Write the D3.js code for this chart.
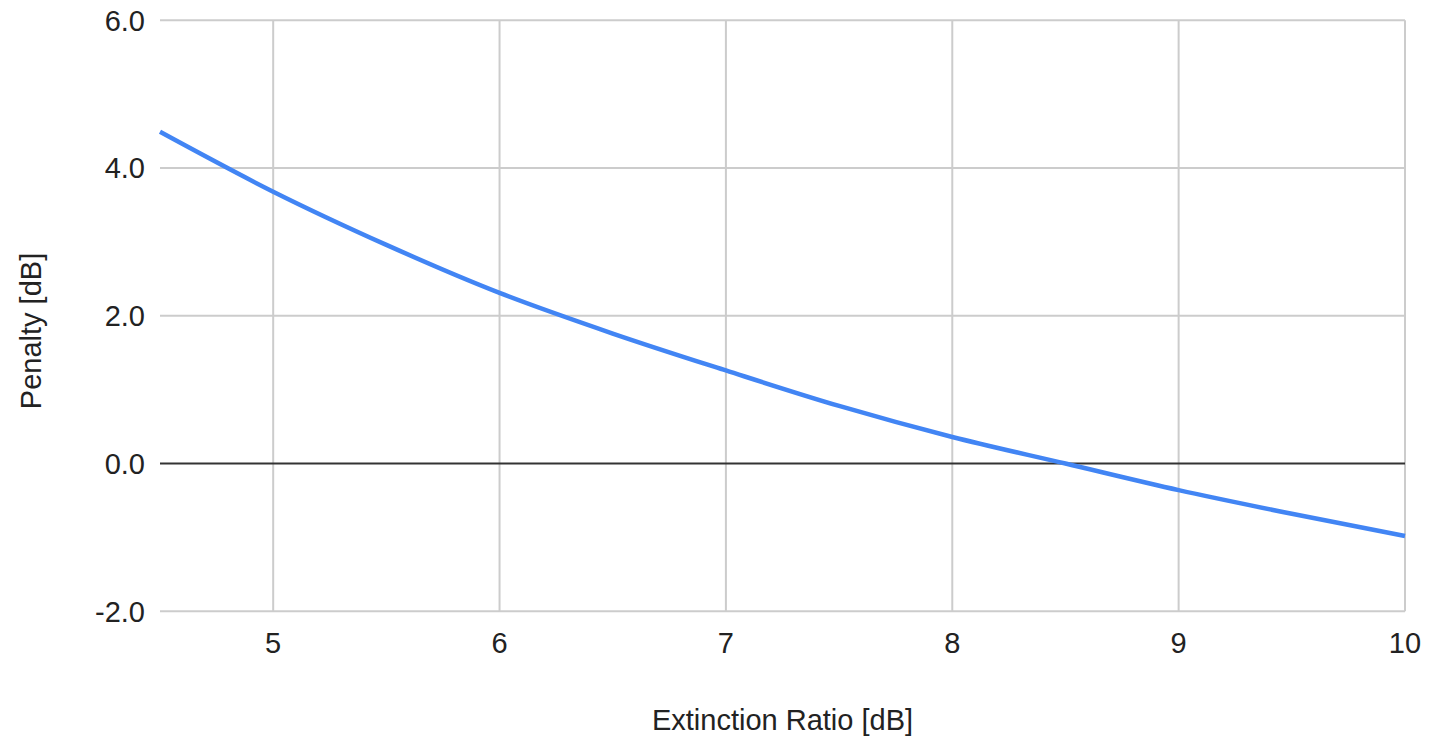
<!DOCTYPE html>
<html><head><meta charset="utf-8">
<script src="https://cdn.jsdelivr.net/npm/d3@7"></script>
<style>body{margin:0;background:#fff}svg{display:block}text{font-family:"Liberation Sans",Arial,sans-serif}</style>
</head><body>
<svg id="c" width="1448" height="738"></svg>
<script>
const extinctionRatio = [4.5, 5, 5.5, 6, 6.5, 7, 7.5, 8, 8.5, 9, 9.5, 10];
const penalty = [4.49, 3.68, 2.96, 2.31, 1.76, 1.26, 0.78, 0.36, 0.0, -0.36, -0.68, -0.98];
const xTicks = [5, 6, 7, 8, 9, 10];
const yTicks = [-2, 0, 2, 4, 6];
const yTickLabels = ["-2.0", "0.0", "2.0", "4.0", "6.0"];
const xTitle = "Extinction Ratio [dB]";
const yTitle = "Penalty [dB]";

const svg = d3.select("#c");
const L = 160, R = 1405, T = 20.3, B = 611.3;
const x = d3.scaleLinear().domain([4.5, 10]).range([L, R]);
const y = d3.scaleLinear().domain([-2, 6]).range([B, T]);
const fs = 29;

// horizontal gridlines
svg.append("g").selectAll("line").data(yTicks.filter(d => d !== 0)).join("line")
  .attr("x1", L).attr("x2", R).attr("y1", d => y(d)).attr("y2", d => y(d))
  .attr("stroke", "#cccccc").attr("stroke-width", 2);
// vertical gridlines
svg.append("g").selectAll("line").data(xTicks).join("line")
  .attr("x1", d => x(d)).attr("x2", d => x(d)).attr("y1", T).attr("y2", B)
  .attr("stroke", "#cccccc").attr("stroke-width", 2);
// zero baseline
svg.append("line").attr("x1", L).attr("x2", R).attr("y1", y(0)).attr("y2", y(0))
  .attr("stroke", "#333333").attr("stroke-width", 2);

// y tick labels
svg.append("g").selectAll("text").data(yTicks).join("text")
  .attr("x", 145).attr("y", d => y(d)).attr("dy", "0.36em")
  .attr("text-anchor", "end").attr("font-size", fs).attr("fill", "#222")
  .text((d, i) => yTickLabels[i]);
// x tick labels
svg.append("g").selectAll("text").data(xTicks).join("text")
  .attr("x", d => x(d)).attr("y", 653)
  .attr("text-anchor", "middle").attr("font-size", fs).attr("fill", "#222")
  .text(d => d);

// line
const data = extinctionRatio.map((v, i) => [v, penalty[i]]);
svg.append("path").datum(data)
  .attr("fill", "none").attr("stroke", "#4285f4").attr("stroke-width", 4.5)
  .attr("stroke-linejoin", "round")
  .attr("d", d3.line().x(d => x(d[0])).y(d => y(d[1])).curve(d3.curveMonotoneX));

// titles
svg.append("text").attr("x", (L + R) / 2).attr("y", 730)
  .attr("text-anchor", "middle").attr("font-size", fs).attr("fill", "#222").text(xTitle);
svg.append("text").attr("transform", `translate(41,331) rotate(-90)`)
  .attr("text-anchor", "middle").attr("font-size", fs).attr("fill", "#222").text(yTitle);
</script>
</body></html>
